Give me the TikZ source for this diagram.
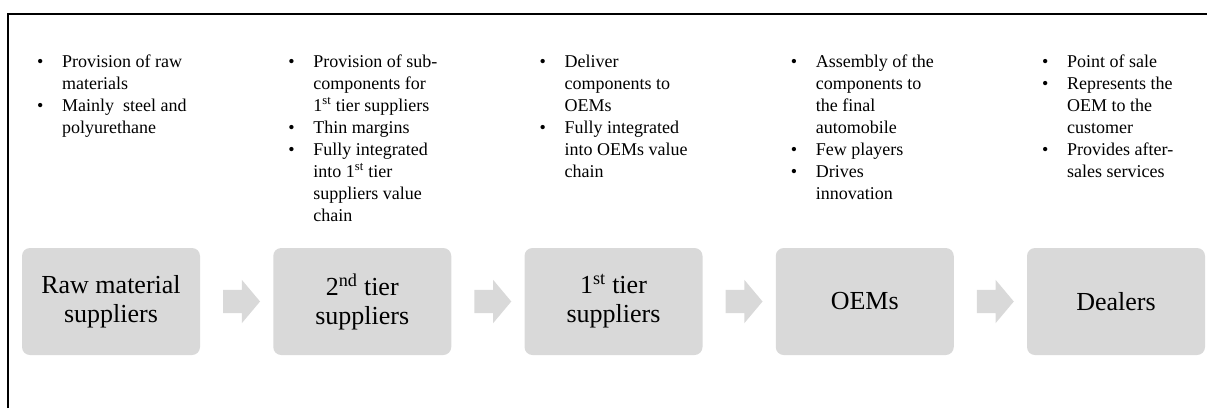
\documentclass[tikz,border=0pt]{standalone}
\usepackage{fontspec}
\setmainfont{Liberation Serif}
\usetikzlibrary{shapes.arrows}
\definecolor{StageGrey}{RGB}{217,217,217}

\begin{document}
\begin{tikzpicture}[x=1pt, y=-1pt,
  stage/.style={fill=StageGrey, rounded corners=8pt, minimum width=178pt, minimum height=107pt,
    inner sep=0pt, align=center, font=\fontsize{26}{29}\selectfont},
  flow/.style={single arrow, fill=StageGrey, inner xsep=0pt, inner ysep=11.5pt,
    minimum height=37pt, single arrow head extend=10pt, single arrow tip angle=100},
  note/.style={anchor=base west, inner sep=0pt, font=\fontsize{18}{22}\selectfont}]
\pgfmathsetmacro{\ys}{301.5} % y of the stage row
\pgfmathsetmacro{\yn}{67} % baseline of the first note line
\pgfmathsetmacro{\dx}{251.25} % pitch of the columns

\useasboundingbox (0,0) rectangle (1207,408);
\draw[line width=2pt] (8,408) -- (8,14) -- (1207,14); %frame, cut at right and bottom

\node[stage] (raw) at (111, \ys) {Raw material\\suppliers};
\node[stage] (tier2) at (111+\dx, \ys) {2\textsuperscript{nd} tier\\suppliers};
\node[stage] (tier1) at (111+2*\dx, \ys) {1\textsuperscript{st} tier\\suppliers};
\node[stage] (oem) at (111+3*\dx, \ys) {OEMs};
\node[stage] (dealer) at (111+4*\dx, \ys) {Dealers};

\path (raw.east) -- (tier2.west) node[midway, flow] (a1) {};
\path (tier2.east) -- (tier1.west) node[midway, flow] (a2) {};
\path (tier1.east) -- (oem.west) node[midway, flow] (a3) {};
\path (oem.east) -- (dealer.west) node[midway, flow] (a4) {};

\node[note] (rawnote) at (37, \yn) {\begin{tabular}[t]{@{}p{25pt}@{}l@{}}
  \textbullet & Provision of raw\\
              & materials\\
  \textbullet & Mainly\ \ steel and\\
              & polyurethane
\end{tabular}}; %raw material

\node[note] (tier2note) at (37+\dx, \yn) {\begin{tabular}[t]{@{}p{25pt}@{}l@{}}
  \textbullet & Provision of sub-\\
              & components for\\
              & 1\textsuperscript{st} tier suppliers\\
  \textbullet & Thin margins\\
  \textbullet & Fully integrated\\
              & into 1\textsuperscript{st} tier\\
              & suppliers value\\
              & chain
\end{tabular}}; %2nd tier

\node[note] (tier1note) at (37+2*\dx, \yn) {\begin{tabular}[t]{@{}p{25pt}@{}l@{}}
  \textbullet & Deliver\\
              & components to\\
              & OEMs\\
  \textbullet & Fully integrated\\
              & into OEMs value\\
              & chain
\end{tabular}}; %1st tier

\node[note] (oemnote) at (37+3*\dx, \yn) {\begin{tabular}[t]{@{}p{25pt}@{}l@{}}
  \textbullet & Assembly of the\\
              & components to\\
              & the final\\
              & automobile\\
  \textbullet & Few players\\
  \textbullet & Drives\\
              & innovation
\end{tabular}}; %OEMs

\node[note] (dealernote) at (37+4*\dx, \yn) {\begin{tabular}[t]{@{}p{25pt}@{}l@{}}
  \textbullet & Point of sale\\
  \textbullet & Represents the\\
              & OEM to the\\
              & customer\\
  \textbullet & Provides after-\\
              & sales services
\end{tabular}}; %dealers

\end{tikzpicture}
\end{document}
